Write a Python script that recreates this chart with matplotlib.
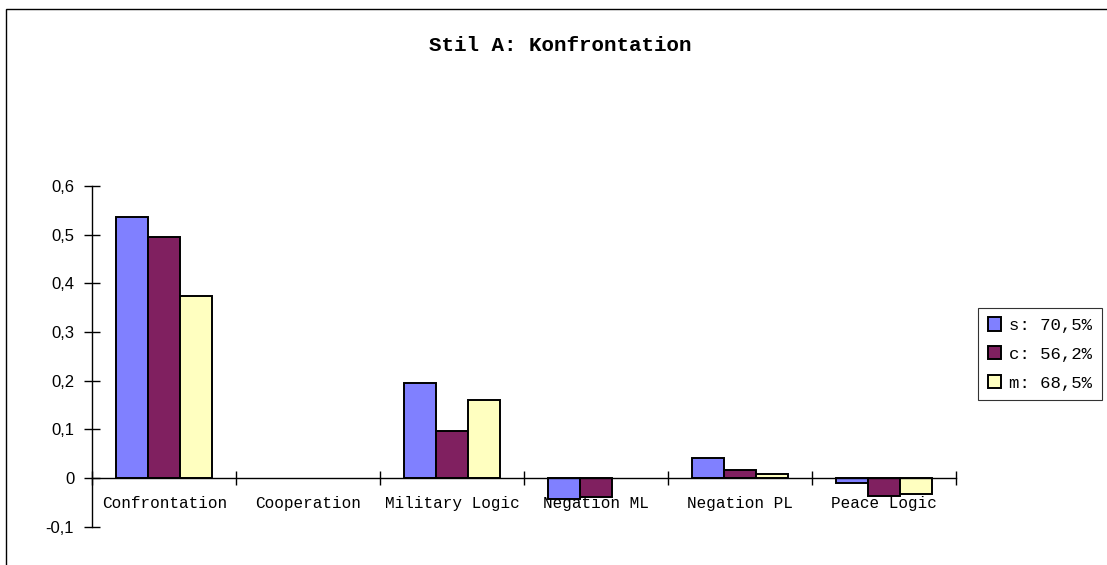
import numpy as np
import matplotlib.pyplot as plt
from matplotlib.patches import Rectangle

categories = ['Confrontation', 'Cooperation', 'Military Logic',
              'Negation ML', 'Negation PL', 'Peace Logic']
s_vals = [0.536, 0.0, 0.195, -0.043, 0.041, -0.010]
c_vals = [0.496, 0.0, 0.096, -0.040, 0.016, -0.036]
m_vals = [0.375, 0.0, 0.161, 0.0, 0.008, -0.033]
series_names = ['s: 70,5%', 'c: 56,2%', 'm: 68,5%']
yticks = [-0.1, 0.0, 0.1, 0.2, 0.3, 0.4, 0.5, 0.6]
ytick_labels = ['-0,1', '0', '0,1', '0,2', '0,3', '0,4', '0,5', '0,6']

colors = ['#8080FF', '#802060', '#FFFFC0']
mono = 'Liberation Mono'
sans = 'Liberation Sans'

fig = plt.figure(figsize=(11.07, 5.65), dpi=100)
ax = fig.add_axes([92.3 / 1107, 38.3 / 565, (956 - 92.3) / 1107, (526.7 - 186) / 565])

x = np.arange(len(categories))
w = 0.2227
bars = []
for i, vals in enumerate([s_vals, c_vals, m_vals]):
    b = ax.bar(x + (i - 1) * w, vals, width=w, color=colors[i],
               edgecolor='black', linewidth=1.4, label=series_names[i], zorder=3)
    # empty bars leave no outline on the axis
    for patch, v in zip(b.patches, vals):
        if v == 0:
            patch.set_linewidth(0)
    bars.append(b)

ax.set_xlim(-0.5, len(categories) - 0.5)
ax.set_ylim(-0.1, 0.6)

# axes look: left spine plus x-axis at zero
for side in ['top', 'right']:
    ax.spines[side].set_visible(False)
ax.spines['bottom'].set_position(('data', 0))
ax.spines['bottom'].set_zorder(4)
ax.spines['left'].set_linewidth(1.0)
ax.spines['bottom'].set_linewidth(1.0)

ax.set_xticks(np.arange(len(categories) + 1) - 0.5)
ax.set_xticklabels([])
ax.tick_params(axis='x', which='major', direction='inout', length=10, width=1)
ax.set_xticks(x, minor=True)
ax.set_xticklabels(categories, minor=True, fontfamily=mono, fontsize=11.5)
ax.tick_params(axis='x', which='minor', length=0, pad=13)

ax.set_yticks(yticks)
ax.set_yticklabels(ytick_labels, fontfamily=sans, fontsize=12)
ax.tick_params(axis='y', direction='inout', length=12, width=1, pad=7)

fig.text(0.506, 0.920, 'Stil A: Konfrontation', ha='center', va='center',
         fontfamily=mono, fontweight='bold', fontsize=15)

leg = fig.legend(handles=bars, labels=series_names, loc='center left',
                 bbox_to_anchor=(978 / 1107, 1 - 354 / 565),
                 prop={'family': mono, 'size': 12.5}, frameon=True, fancybox=False,
                 edgecolor='black', handlelength=0.8, handleheight=0.8,
                 handletextpad=0.45, labelspacing=0.75, borderpad=0.55,
                 borderaxespad=0)
leg.get_frame().set_linewidth(0.8)

# outer chart frame (top and left edges visible)
fig.add_artist(Rectangle((6 / 1107, -0.5), 2, 1 - 9 / 565 + 0.5,
                         transform=fig.transFigure, fill=False,
                         edgecolor='black', linewidth=1.0))

fig.savefig('out.png', dpi=100)
